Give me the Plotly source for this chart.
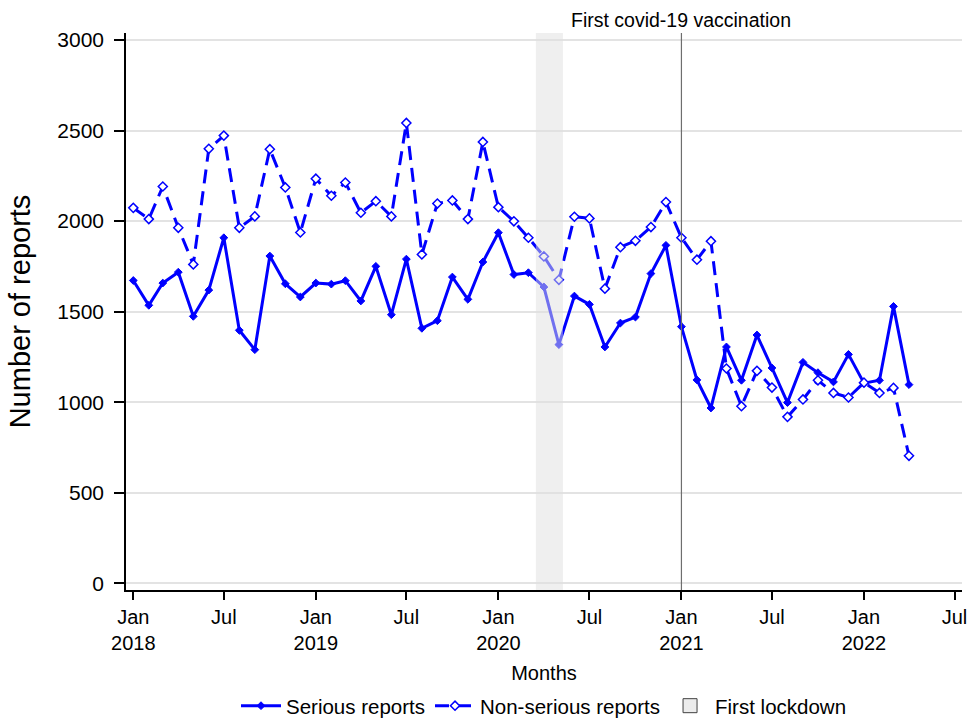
import pandas as pd
import plotly.graph_objects as go

# Monthly report counts, Jan 2018 – Apr 2022
months = pd.date_range("2018-01-01", "2022-04-01", freq="MS")

serious = [
    1672, 1535, 1658, 1718, 1474, 1619, 1908, 1397, 1290, 1807, 1654, 1581,
    1658, 1652, 1671, 1559, 1750, 1483, 1790, 1408, 1450, 1691, 1568, 1774,
    1936, 1705, 1715, 1636, 1318, 1586, 1540, 1305, 1437, 1470, 1710, 1866,
    1417, 1123, 968, 1305, 1121, 1371, 1189, 998, 1220, 1163, 1112, 1264,
    1105, 1121, 1529, 1097,
]
non_serious = [
    2073, 2011, 2191, 1963, 1761, 2399, 2472, 1963, 2026, 2397, 2186, 1937,
    2234, 2140, 2213, 2046, 2110, 2026, 2542, 1816, 2097, 2114, 2011, 2437,
    2077, 1999, 1908, 1805, 1676, 2024, 2015, 1627, 1856, 1891, 1967, 2105,
    1908, 1787, 1889, 1186, 978, 1173, 1081, 919, 1015, 1121, 1051, 1026,
    1108, 1051, 1079, 704,
]

tick_dates = pd.date_range("2018-01-01", "2022-07-01", freq="6MS")
tick_text = ["Jan<br>2018", "Jul", "Jan<br>2019", "Jul", "Jan<br>2020", "Jul",
             "Jan<br>2021", "Jul", "Jan<br>2022", "Jul"]
y_ticks = [0, 500, 1000, 1500, 2000, 2500, 3000]

lockdown_start, lockdown_end = "2020-03-16", "2020-05-09"
vaccination_date = "2021-01-01"

BLUE = "#0000ff"
FONT = "Liberation Sans, Arial, sans-serif"

fig = go.Figure()

fig.add_trace(go.Scatter(
    x=months, y=serious, name="Serious reports", mode="lines+markers",
    line=dict(color=BLUE, width=3),
    marker=dict(symbol="diamond", size=6, color=BLUE, line=dict(color=BLUE, width=1)),
))
fig.add_trace(go.Scatter(
    x=months, y=non_serious, name="Non-serious reports", mode="lines+markers",
    line=dict(color=BLUE, width=3, dash="14px,8px"),
    marker=dict(symbol="diamond", size=7, color="white", line=dict(color=BLUE, width=1.5)),
))
# legend entry for the lockdown band
fig.add_trace(go.Scatter(
    x=[None], y=[None], name="First lockdown", mode="markers",
    marker=dict(symbol="square", size=14, color="#ececec", line=dict(color="#404040", width=1)),
))

# first lockdown band, drawn over the lines so they show through faded
fig.add_shape(type="rect", xref="x", yref="paper", x0=lockdown_start, x1=lockdown_end,
              y0=0, y1=1, fillcolor="#e0e0e0", opacity=0.5, line=dict(width=0),
              layer="above")
# first vaccination marker line
fig.add_shape(type="line", xref="x", yref="paper", x0=vaccination_date, x1=vaccination_date,
              y0=0, y1=1, line=dict(color="#6e6e6e", width=1.2), layer="above")
fig.add_annotation(x=vaccination_date, xref="x", y=1.023, yref="paper",
                   text="First covid-19 vaccination", showarrow=False,
                   xanchor="center", yanchor="middle",
                   font=dict(family=FONT, size=19.5, color="black"))

fig.update_layout(
    width=968, height=720,
    margin=dict(l=126, r=6, t=33, b=130, autoexpand=False),
    plot_bgcolor="white", paper_bgcolor="white",
    font=dict(family=FONT, color="black"),
    showlegend=True,
    legend=dict(orientation="h", x=0.5, xanchor="center", y=-0.208, yanchor="middle",
                font=dict(family=FONT, size=20.5), itemwidth=40,
                bgcolor="rgba(0,0,0,0)"),
)

fig.update_xaxes(
    type="date", range=["2017-12-17 10:00", "2022-07-16"],
    tickvals=tick_dates, ticktext=tick_text,
    ticks="outside", ticklen=8, tickwidth=1.5, tickcolor="black",
    showline=True, linecolor="black", linewidth=1.5,
    showgrid=False, zeroline=False,
    tickfont=dict(family=FONT, size=20),
    title=dict(text="Months", font=dict(family=FONT, size=20), standoff=13),
)
fig.update_yaxes(
    range=[-37, 3038.6], tickvals=y_ticks,
    ticks="outside", ticklen=10, tickwidth=1.5, tickcolor="black",
    showline=True, linecolor="black", linewidth=1.5,
    showgrid=True, gridcolor="#e3e3e3", gridwidth=1.5, zeroline=False,
    tickfont=dict(family=FONT, size=21), ticklabelstandoff=6,
    title=dict(text="Number of reports", font=dict(family=FONT, size=29), standoff=18),
)

fig.write_html("out.html")
